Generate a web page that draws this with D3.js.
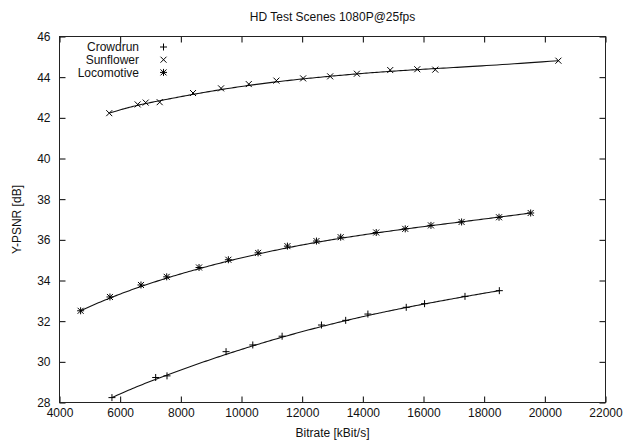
<!DOCTYPE html>
<meta charset="utf-8">
<head>
    <style>
        body { margin: 0; background: #fff; }
        text { font-family: "Liberation Sans", Arial, sans-serif; font-size: 12px; fill: #111; }
        .axis path { display: none; }
        .axis line { stroke: #000; }
        .frame { fill: none; stroke: #222; stroke-width: 1; }
        .curve { fill: none; stroke: #111; stroke-width: 1.1; }
        .mark { fill: none; stroke: #000; stroke-width: 1; }
    </style>
</head>

<script src="https://d3js.org/d3.v7.min.js"></script>

<div id="my_dataviz"></div>

<script>

    // series names, legend order
    var seriesNames = ["Crowdrun", "Sunflower", "Locomotive"];

    // Crowdrun
    var crowdrunRate = [5729, 7171, 7544, 9491, 10372, 11339, 12636, 13435, 14167, 15431, 16035, 17368, 18500];
    var crowdrunPsnr = [28.24, 29.23, 29.31, 30.50, 30.83, 31.26, 31.81, 32.04, 32.35, 32.68, 32.86, 33.22, 33.50];

    // Sunflower
    var sunflowerRate = [5640, 6577, 6841, 7303, 8402, 9326, 10240, 11151, 12032, 12923, 13804, 14903, 15794, 16388, 20447];
    var sunflowerPsnr = [42.23, 42.66, 42.75, 42.77, 43.22, 43.45, 43.66, 43.83, 43.94, 44.04, 44.17, 44.35, 44.39, 44.37, 44.81];

    // Locomotive
    var locomotiveRate = [4696, 5663, 6686, 7534, 8600, 9567, 10547, 11514, 12471, 13270, 14441, 15398, 16246, 17256, 18490, 19533];
    var locomotivePsnr = [32.51, 33.19, 33.78, 34.18, 34.64, 35.02, 35.36, 35.69, 35.94, 36.13, 36.36, 36.54, 36.71, 36.88, 37.11, 37.32];

    // tick values
    var xTicks = [4000, 6000, 8000, 10000, 12000, 14000, 16000, 18000, 20000, 22000];
    var yTicks = [28, 30, 32, 34, 36, 38, 40, 42, 44, 46];

    var title = "HD Test Scenes 1080P@25fps";
    var xLabel = "Bitrate [kBit/s]";
    var yLabel = "Y-PSNR [dB]";

    // dimensions
    var W = 624, H = 440;
    var margin = {top: 36.5, right: 18.5, bottom: 37.5, left: 59.5},
        width = W - margin.left - margin.right,
        height = H - margin.top - margin.bottom;

    var svg = d3.select("#my_dataviz")
      .append("svg")
        .attr("width", W)
        .attr("height", H);

    var g = svg.append("g")
        .attr("transform", "translate(" + margin.left + "," + margin.top + ")");

    var x = d3.scaleLinear().domain([xTicks[0], xTicks[xTicks.length - 1]]).range([0, width]);
    var y = d3.scaleLinear().domain([yTicks[0], yTicks[yTicks.length - 1]]).range([height, 0]);

    // axes with inward ticks, mirrored on top and right
    g.append("g")
      .attr("class", "axis")
      .attr("transform", "translate(0," + height + ")")
      .call(d3.axisBottom(x).tickValues(xTicks).tickSizeInner(-6).tickSizeOuter(0).tickPadding(6).tickFormat(d3.format("d")));

    g.append("g")
      .attr("class", "axis")
      .call(d3.axisLeft(y).tickValues(yTicks).tickSizeInner(-6).tickSizeOuter(0).tickPadding(9).tickFormat(d3.format("d")));

    g.append("g")
      .attr("class", "axis")
      .call(d3.axisTop(x).tickValues(xTicks).tickSizeInner(-6).tickSizeOuter(0).tickFormat(""));

    g.append("g")
      .attr("class", "axis")
      .attr("transform", "translate(" + width + ",0)")
      .call(d3.axisRight(y).tickValues(yTicks).tickSizeInner(-6).tickSizeOuter(0).tickFormat(""));

    g.selectAll(".axis text").style("font-size", "12px").style("font-family", "'Liberation Sans', Arial, sans-serif");

    g.append("rect")
      .attr("class", "frame")
      .attr("width", width)
      .attr("height", height);

    // titles
    svg.append("text")
      .attr("x", margin.left + width / 2)
      .attr("y", 21)
      .attr("text-anchor", "middle")
      .text(title);

    svg.append("text")
      .attr("x", margin.left + width / 2)
      .attr("y", 437)
      .attr("text-anchor", "middle")
      .text(xLabel);

    svg.append("text")
      .attr("transform", "translate(21," + (margin.top + height / 2) + ") rotate(-90)")
      .attr("text-anchor", "middle")
      .text(yLabel);

    // gnuplot style point shapes
    function markPath(type) {
      var p = 3.5, c = 3;
      var plus = "M" + (-p) + ",0H" + p + "M0," + (-p) + "V" + p;
      var cross = "M" + (-c) + "," + (-c) + "L" + c + "," + c + "M" + (-c) + "," + c + "L" + c + "," + (-c);
      if (type == 0) return plus;
      if (type == 1) return cross;
      return plus + cross;
    }

    // like gnuplot "smooth bezier": one bezier curve using all points as controls
    function curveBezierAll(context) {
      var pts;
      return {
        areaStart: function() {},
        areaEnd: function() {},
        lineStart: function() { pts = []; },
        point: function(px, py) { pts.push([+px, +py]); },
        lineEnd: function() {
          var steps = 200;
          for (var s = 0; s <= steps; s++) {
            var t = s / steps;
            var tmp = pts.map(function(p) { return p.slice(); });
            for (var k = tmp.length - 1; k > 0; k--) {
              for (var j = 0; j < k; j++) {
                tmp[j][0] = tmp[j][0] * (1 - t) + tmp[j + 1][0] * t;
                tmp[j][1] = tmp[j][1] * (1 - t) + tmp[j + 1][1] * t;
              }
            }
            if (s == 0) context.moveTo(tmp[0][0], tmp[0][1]);
            else context.lineTo(tmp[0][0], tmp[0][1]);
          }
        }
      };
    }

    var data = [
      {name: seriesNames[0], rate: crowdrunRate, psnr: crowdrunPsnr},
      {name: seriesNames[1], rate: sunflowerRate, psnr: sunflowerPsnr},
      {name: seriesNames[2], rate: locomotiveRate, psnr: locomotivePsnr}
    ];

    var line = d3.line()
      .x(function(d) { return x(d[0]); })
      .y(function(d) { return y(d[1]); })
      .curve(curveBezierAll);

    data.forEach(function(s, i) {
      var pts = s.rate.map(function(r, k) { return [r, s.psnr[k]]; });

      g.append("path")
        .attr("class", "curve")
        .attr("d", line(pts));

      g.selectAll(".mark" + i)
        .data(pts)
        .enter()
        .append("path")
          .attr("class", "mark mark" + i)
          .attr("transform", function(d) { return "translate(" + x(d[0]) + "," + y(d[1]) + ")"; })
          .attr("d", markPath(i));
    });

    // legend
    var legend = svg.append("g");
    data.forEach(function(s, i) {
      var ly = 47 + i * 12.7;
      legend.append("text")
        .attr("x", 139)
        .attr("y", ly + 4.3)
        .attr("text-anchor", "end")
        .text(s.name);
      legend.append("path")
        .attr("class", "mark")
        .attr("transform", "translate(163.5," + ly + ")")
        .attr("d", markPath(i));
    });

</script>
